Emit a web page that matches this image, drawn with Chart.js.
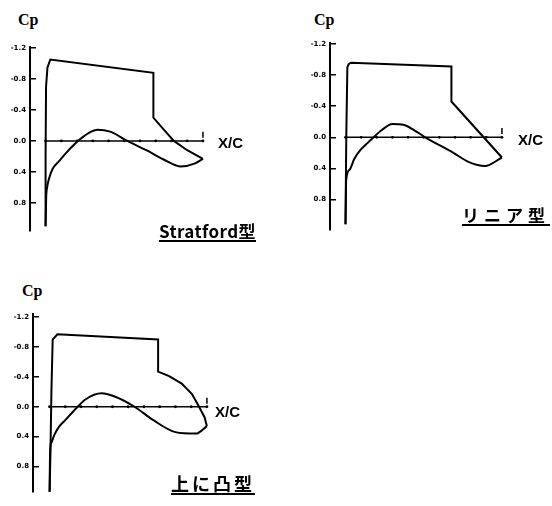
<!DOCTYPE html>
<html>
<head>
<meta charset="utf-8">
<script src="https://cdn.jsdelivr.net/npm/chart.js@4.4.1/dist/chart.umd.min.js"></script>
<style>
    body { margin: 0; background: #fff; }
    #page { position: relative; width: 552px; height: 506px; overflow: hidden; background: #fff; }
    canvas { position: absolute; }
    .lbl { position: absolute; color: #000; white-space: nowrap; line-height: 1; }
    .cp { font-family: "Liberation Serif", serif; font-size: 16px; font-weight: bold; }
    .xc { font-family: "Liberation Sans", sans-serif; font-size: 15px; font-weight: bold; }
    .name { font-family: "Noto Sans CJK JP", sans-serif; font-weight: bold; border-bottom: 2px solid #000; padding-bottom: 1px; }
</style>
</head>
<body>
<div id="page">
    <canvas id="chartStratford" width="222" height="212" style="left:0px; top:33px;"></canvas>
    <canvas id="chartLinear" width="222" height="215" style="left:300px; top:29px;"></canvas>
    <canvas id="chartConvex" width="222" height="206" style="left:3px; top:300px;"></canvas>

    <div class="lbl cp" style="left:18px; top:12px;">Cp</div>
    <div class="lbl cp" style="left:314px; top:12px;">Cp</div>
    <div class="lbl cp" style="left:22px; top:283px;">Cp</div>

    <div class="lbl xc" style="left:218px; top:135px;">X/C</div>
    <div class="lbl xc" style="left:518px; top:132px;">X/C</div>
    <div class="lbl xc" style="left:215px; top:404px;">X/C</div>

    <div class="lbl name" style="left:159px; top:222px; font-size:17px; letter-spacing:0.4px;">Stratford型</div>
    <div class="lbl name" style="left:462px; top:206px; font-size:17px; letter-spacing:5px;">リニア型</div>
    <div class="lbl name" style="left:171px; top:474px; font-size:18px; letter-spacing:3px;">上に凸型</div>
</div>

<script>
// Axis ticks
const yTicks = [-1.2, -0.8, -0.4, 0.0, 0.4, 0.8];
const xTicks = [0, 0.1, 0.2, 0.3, 0.4, 0.5, 0.6, 0.7, 0.8, 0.9, 1.0];

// Stratford型 : upper (suction) and lower surface Cp
const stratfordUpperX  = [0, 0.0, 0.003, 0.012, 0.03, 0.685, 0.685, 0.75, 0.815, 0.9, 1.0];
const stratfordUpperCp = [1.1, 0.2, -0.7, -0.95, -1.05, -0.88, -0.3, -0.15, 0.0, 0.12, 0.23];
const stratfordLowerX  = [0, 0.004, 0.01, 0.02, 0.045, 0.086, 0.128, 0.19, 0.23, 0.29, 0.33, 0.41, 0.52, 0.64, 0.75, 0.86, 0.95, 1.0];
const stratfordLowerCp = [1.1, 0.72, 0.6, 0.5, 0.36, 0.26, 0.16, 0.03, -0.04, -0.12, -0.145, -0.12, 0.0, 0.12, 0.24, 0.33, 0.29, 0.23];

// リニア型
const linearUpperX  = [0, 0.005, 0.012, 0.02, 0.035, 0.677, 0.677, 1.0];
const linearUpperCp = [1.12, 0.0, -0.9, -0.94, -0.96, -0.91, -0.46, 0.26];
const linearLowerX  = [0, 0.002, 0.004, 0.025, 0.056, 0.097, 0.14, 0.18, 0.23, 0.30, 0.37, 0.44, 0.51, 0.69, 0.79, 0.89, 1.0];
const linearLowerCp = [1.12, 0.85, 0.56, 0.42, 0.28, 0.16, 0.075, 0.0, -0.09, -0.17, -0.16, -0.09, 0.0, 0.2, 0.32, 0.37, 0.26];

// 上に凸型
const convexUpperX  = [0, 0.006, 0.012, 0.02, 0.05, 0.69, 0.69, 0.76, 0.84, 0.905, 0.945, 0.985, 1.0];
const convexUpperCp = [1.2, 0.6, -0.2, -0.9, -0.97, -0.9, -0.47, -0.41, -0.31, -0.17, -0.02, 0.14, 0.26];
const convexLowerX  = [0, 0.004, 0.012, 0.03, 0.06, 0.1, 0.17, 0.23, 0.33, 0.41, 0.54, 0.66, 0.8, 0.93, 1.0];
const convexLowerCp = [1.2, 0.58, 0.48, 0.38, 0.27, 0.18, 0.02, -0.1, -0.18, -0.14, 0.0, 0.18, 0.34, 0.36, 0.26];

/**
 * Zips x and Cp arrays into point objects.
 */
function toPoints(xs, ys) {
    return xs.map((x, i) => ({ x: x, y: ys[i] }));
}

/**
 * Draws one Cp distribution panel.
 */
function renderCpChart(id, upperX, upperCp, lowerX, lowerCp, range) {
    const ctx = document.getElementById(id).getContext('2d');

    return new Chart(ctx, {
        type: 'line',
        data: {
            datasets: [
                {
                    // x axis line with dots at every 0.1
                    data: xTicks.map(x => ({ x: x, y: 0 })),
                    borderColor: '#000',
                    borderWidth: 1.5,
                    pointRadius: 1.4,
                    pointBackgroundColor: '#000',
                    pointBorderWidth: 0
                },
                {
                    // small mark at the end of the x axis
                    data: [{ x: 1.0, y: -0.08 }],
                    showLine: false,
                    pointStyle: 'line',
                    rotation: 90,
                    pointRadius: 3,
                    borderColor: '#000',
                    borderWidth: 1.5
                },
                {
                    data: toPoints(upperX, upperCp),
                    borderColor: '#000',
                    borderWidth: 2,
                    pointRadius: 0,
                    tension: 0
                },
                {
                    data: toPoints(lowerX, lowerCp),
                    borderColor: '#000',
                    borderWidth: 2,
                    pointRadius: 0,
                    cubicInterpolationMode: 'monotone'
                }
            ]
        },
        options: {
            responsive: false,
            animation: false,
            devicePixelRatio: 1,
            layout: { padding: { top: range.padTop, bottom: range.padBottom, left: 0, right: 0 } },
            plugins: {
                legend: { display: false },
                tooltip: { enabled: false }
            },
            scales: {
                x: {
                    type: 'linear',
                    display: false,
                    min: range.xMin,
                    max: range.xMax
                },
                y: {
                    type: 'linear',
                    reverse: true,
                    min: range.yMin,
                    max: range.yMax,
                    afterBuildTicks: scale => {
                        scale.ticks = yTicks.map(v => ({ value: v }));
                    },
                    afterFit: scale => {
                        scale.width = 30;
                    },
                    border: { display: true, color: '#000', width: 2 },
                    grid: {
                        drawOnChartArea: false,
                        drawTicks: true,
                        tickLength: -6,
                        color: '#000',
                        lineWidth: 1.5
                    },
                    ticks: {
                        padding: 10,
                        color: '#000',
                        font: { family: 'DejaVu Sans', size: 7, weight: 'bold' },
                        callback: v => v.toFixed(1)
                    }
                }
            }
        }
    });
}

renderCpChart('chartStratford', stratfordUpperX, stratfordUpperCp, stratfordLowerX, stratfordLowerCp,
    { xMin: -0.099, xMax: 1.086, yMin: -1.21, yMax: 1.16, padTop: 10, padBottom: 6 });
renderCpChart('chartLinear', linearUpperX, linearUpperCp, linearLowerX, linearLowerCp,
    { xMin: -0.099, xMax: 1.093, yMin: -1.21, yMax: 1.19, padTop: 10, padBottom: 6 });
renderCpChart('chartConvex', convexUpperX, convexUpperCp, convexLowerX, convexLowerCp,
    { xMin: -0.105, xMax: 1.08, yMin: -1.24, yMax: 1.14, padTop: 10, padBottom: 0 });
</script>
</body>
</html>
